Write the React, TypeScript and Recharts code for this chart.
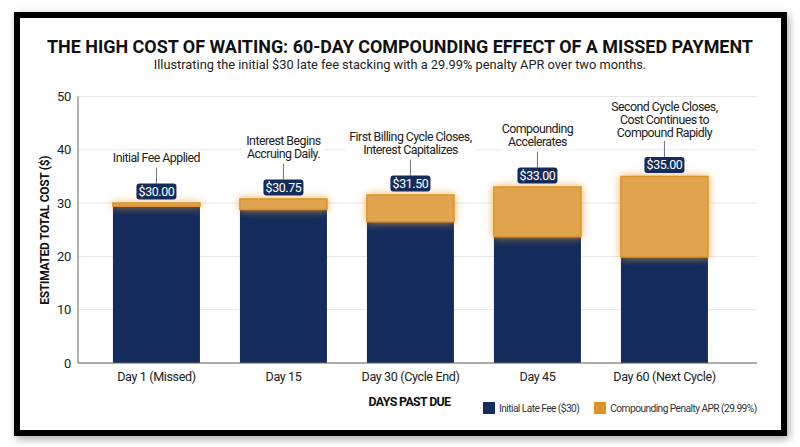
import React from "react";
import { BarChart, Bar, XAxis, YAxis, CartesianGrid, Legend, LabelList } from "recharts";

const categories = ["Day 1 (Missed)", "Day 15", "Day 30 (Cycle End)", "Day 45", "Day 60 (Next Cycle)"];
const lateFee = [29.4, 28.8, 26.5, 23.7, 19.9];
const penalty = [0.6, 1.95, 5.0, 9.3, 15.1];
const totals = ["$30.00", "$30.75", "$31.50", "$33.00", "$35.00"];
const notes = [
  ["Initial Fee Applied"],
  ["Interest Begins", "Accruing Daily."],
  ["First Billing Cycle Closes,", "Interest Capitalizes"],
  ["Compounding", "Accelerates"],
  ["Second Cycle Closes,", "Cost Continues to", "Compound Rapidly"],
];
const noteWidths = [86, 72, 120, 66, 102];
const noteGaps = [2, 2, 2, 2, 0.5];
const yTicks = [0, 10, 20, 30, 40, 50];
const legendItems = [
  { label: "Initial Late Fee ($30)", color: "#142C5C" },
  { label: "Compounding Penalty APR (29.99%)", color: "#DD9327" },
];

const data = categories.map((name, i) => ({ name, lateFee: lateFee[i], penalty: penalty[i], i }));
const NAVY = "#142C5C";
const ORANGE = "#DD9327";
const FONT = "Roboto, sans-serif";

const Note = (props: any) => {
  const { x, y, width, index } = props;
  const cx = x + width / 2;
  const badgeBottom = y - 3.5;
  const badgeTop = badgeBottom - 16;
  const stemTop = badgeTop - 16;
  const lines = notes[index];
  const lh = 13;
  const textTop = stemTop - lines.length * lh - 1 - noteGaps[index];
  return (
    <g>
      <rect x={cx - noteWidths[index] / 2 - 5} y={textTop} width={noteWidths[index] + 10} height={lines.length * lh + 1} fill="#fff" />
      {lines.map((l, k) => (
        <text key={k} x={cx} y={textTop + lh * k + 10.5} textAnchor="middle" fontFamily={FONT} fontSize={12.4} letterSpacing={-0.55} fill="#222">{l}</text>
      ))}
      <line x1={cx} x2={cx} y1={stemTop} y2={badgeTop} stroke="#6b7280" strokeWidth={1} />
      <rect x={cx - 20} y={badgeTop} width={40} height={16} rx={3} fill={NAVY} />
      <text x={cx} y={badgeTop + 12.3} textAnchor="middle" fontFamily={FONT} fontSize={12.4} letterSpacing={-0.4} fill="#fff">{totals[index]}</text>
    </g>
  );
};

const LegendBox = () => (
  <div style={{ display: "flex", alignItems: "center", fontFamily: FONT, fontSize: 10.2, letterSpacing: -0.56, color: "#333", whiteSpace: "nowrap" }}>
    {legendItems.map((it, i) => (
      <div key={it.label} style={{ display: "flex", alignItems: "center", marginRight: i === 0 ? 15 : 0 }}>
        <span style={{ display: "inline-block", width: 12, height: 12, background: it.color, marginRight: 4 }} />
        {it.label}
      </div>
    ))}
  </div>
);

export default function App() {
  return (
    <div style={{ position: "absolute", left: 0, top: 0, width: 800, height: 447, background: "#fff", overflow: "hidden" }}>
      <div style={{ position: "absolute", left: 14, top: 12, width: 761, height: 412, border: "6px solid #000", boxShadow: "2px 3px 8px rgba(0,0,0,0.35)" }} />
      <div style={{ position: "absolute", left: 0, top: 36, width: 800, textAlign: "center", fontFamily: FONT, fontWeight: 700, fontSize: 17.95, lineHeight: "22px", color: "#111", whiteSpace: "nowrap" }}>
        THE HIGH COST OF WAITING: 60-DAY COMPOUNDING EFFECT OF A MISSED PAYMENT
      </div>
      <div style={{ position: "absolute", left: 0, top: 56, width: 800, textAlign: "center", fontFamily: FONT, fontSize: 12.8, lineHeight: "18px", color: "#222" }}>
        Illustrating the initial $30 late fee stacking with a 29.99% penalty APR over two months.
      </div>
      <div style={{ position: "absolute", left: 0, top: 0 }}>
        <BarChart width={800} height={447} data={data} margin={{ top: 96.5, right: 43, bottom: 0, left: 0 }} barCategoryGap="15.7%">
          <CartesianGrid vertical={false} stroke="#e6e6e6" strokeWidth={1} />
          <XAxis dataKey="name" height={84} padding={{ left: 15, right: 29 }} tickLine={false} tickSize={0} axisLine={{ stroke: "#666", strokeWidth: 1.2 }}
            tick={{ fontFamily: FONT, fontSize: 12.6, letterSpacing: -0.38, fill: "#222" }} tickMargin={9} interval={0}
            label={{ value: "DAYS PAST DUE", position: "insideBottom", offset: 41, dx: -8, style: { fontFamily: FONT, fontWeight: 700, fontSize: 12.4, letterSpacing: -0.65, fill: "#111" } }} />
          <YAxis domain={[0, 50]} ticks={yTicks} width={78} tickLine={false} tickSize={0} axisLine={{ stroke: "#666", strokeWidth: 1 }}
            tick={{ fontFamily: FONT, fontSize: 13, letterSpacing: -0.3, fill: "#222" }} tickMargin={7}
            label={{ value: "ESTIMATED TOTAL COST ($)", angle: -90, position: "insideLeft", offset: 45, dy: 75, style: { fontFamily: FONT, fontWeight: 700, fontSize: 12, letterSpacing: -0.3, fill: "#111" } }} />
          <Legend layout="horizontal" align="center" verticalAlign="middle" content={<LegendBox />}
            wrapperStyle={{ position: "absolute", left: 483, top: 402, width: 290, height: 14, margin: 0 }} />
          <Bar dataKey="lateFee" name="Initial Late Fee ($30)" stackId="a" fill={NAVY} isAnimationActive={false} />
          <Bar dataKey="penalty" name="Compounding Penalty APR (29.99%)" stackId="a" fill="#E0A44F" stroke={ORANGE} strokeWidth={1.5} isAnimationActive={false}
            style={{ filter: "drop-shadow(0 0 4px rgba(240,160,50,0.85))" }}>
            <LabelList dataKey="penalty" content={<Note />} />
          </Bar>
        </BarChart>
      </div>
    </div>
  );
}
